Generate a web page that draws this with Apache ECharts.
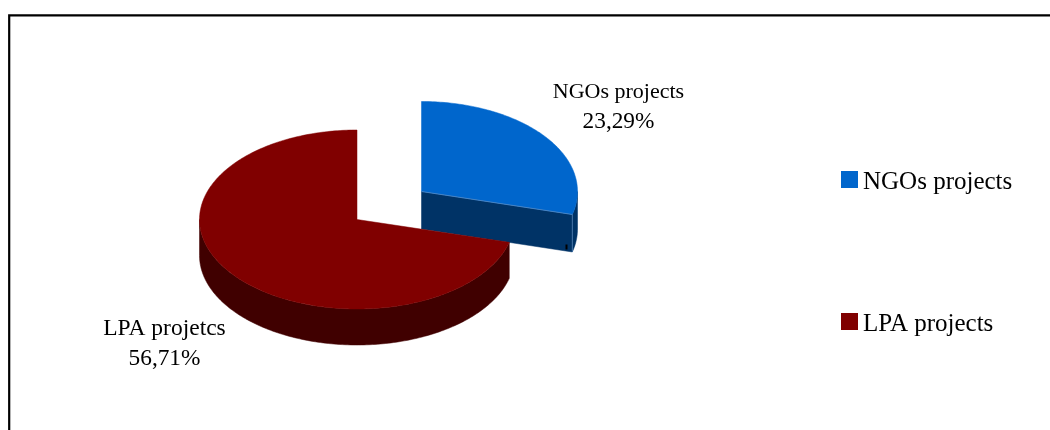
<!DOCTYPE html>
<html><head><meta charset="utf-8">
<style>html,body{margin:0;padding:0;background:#fff}#c{width:1050px;height:430px}</style>
<script src="https://cdn.jsdelivr.net/npm/echarts@6/dist/echarts.min.js"></script>
</head><body><div id="c"></div>
<script>
const categories = ['NGOs projects', 'LPA projects'];
const pointLabels = ['NGOs projects', 'LPA projetcs'];
const values = [23.29, 56.71];

const FONT = '"Liberation Serif","Times New Roman",serif';
const sliceStyle = [
  {cx:421.5, cy:191.5, rx:156, ry:90, depth:37.5, top:'#0066CC', side:'#003366', labelX:618.5, nameY:92, valueY:122, nameSize:22},
  {cx:357,   cy:219.5, rx:157.5, ry:89.5, depth:36, top:'#800000', side:'#400000', labelX:164.5, nameY:329, valueY:359, nameSize:23.5}
];
const EDGE = '#5f8fc4';
const total = values.reduce((a,b)=>a+b,0);
function startOf(i){ let s=0; for(let k=0;k<i;k++) s+=values[k]; return s/total*360; }
function pt(st,deg,dy){ const r=deg*Math.PI/180; return [st.cx+st.rx*Math.sin(r), st.cy-st.ry*Math.cos(r)+(dy||0)]; }
function arc(st,a,b,dy){ const out=[]; const n=Math.max(2,Math.ceil(Math.abs(b-a))); for(let i=0;i<=n;i++) out.push(pt(st,a+(b-a)*i/n,dy)); return out; }

function makeRender(i){
  return function(params, api){
    const st=sliceStyle[i];
    const a=startOf(i), b=a+api.value(0)/total*360;
    const children=[];
    const poly=(points,fill)=>children.push({type:'polygon',shape:{points},style:{fill,stroke:fill,lineWidth:0.5}});
    const sa=Math.max(a,90), sb=Math.min(b,270);
    if(sb>sa) poly(arc(st,sa,sb,0).concat(arc(st,sb,sa,st.depth)), st.side);
    if(b>90 && b<180){
      const c=[st.cx,st.cy], e=pt(st,b);
      poly([c,e,[e[0],e[1]+st.depth],[c[0],c[1]+st.depth]], st.side);
    }
    poly([[st.cx,st.cy]].concat(arc(st,a,b,0)), st.top);
    if(i===0){
      const e=pt(st,b);
      const line=(x1,y1,x2,y2)=>children.push({type:'line',shape:{x1,y1,x2,y2},style:{stroke:EDGE,lineWidth:0.7}});
      line(st.cx,st.cy,e[0],e[1]);
      line(e[0],e[1],e[0],e[1]+st.depth);
      children.push({type:'rect',shape:{x:565.5,y:244.5,width:2,height:5},style:{fill:'#000'}});
    }
    const txt=(text,y,size)=>children.push({type:'text',z2:10,style:{text,x:st.labelX,y,align:'center',verticalAlign:'middle',fill:'#000',font:size+'px '+FONT}});
    txt(pointLabels[i],st.nameY,st.nameSize);
    txt(api.value(0).toFixed(2).replace('.',',')+'%',st.valueY,23.3);
    return {type:'group',children};
  };
}

const chart=echarts.init(document.getElementById('c'),null,{renderer:'canvas'});
chart.setOption({
  animation:false,
  backgroundColor:'#fff',
  graphic:[{type:'polyline',silent:true,shape:{points:[[9.2,434],[9.2,15.4],[1054,15.4]]},style:{stroke:'#000',lineWidth:2.2,fill:'none'}}],
  legend:{
    orient:'vertical',left:841,top:164.5,padding:0,itemGap:112,itemWidth:17,itemHeight:17,
    icon:'rect',
    formatter:'{a|{name}}',
    textStyle:{fontFamily:FONT,fontSize:25,color:'#000',lineHeight:30,
      rich:{a:{fontFamily:FONT,fontSize:25,color:'#000',lineHeight:30,padding:[5,0,0,0]}}},
    data:categories
  },
  series:categories.map((name,i)=>({
    type:'custom',name,coordinateSystem:'none',
    itemStyle:{color:sliceStyle[i].top},
    renderItem:makeRender(i),
    data:[values[i]]
  }))
});
</script></body></html>
